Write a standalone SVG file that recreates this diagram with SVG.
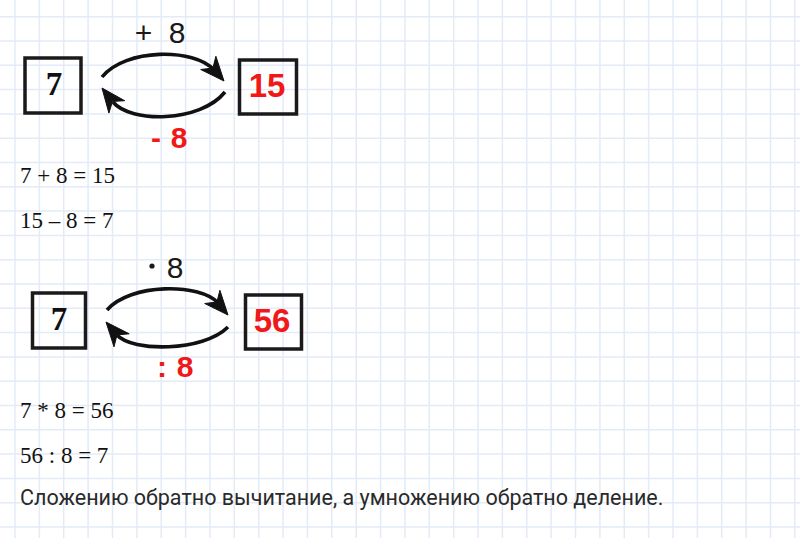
<svg xmlns="http://www.w3.org/2000/svg" width="800" height="538" viewBox="0 0 800 538">
<defs>
<style>
.grid{stroke:#e3ebf7;stroke-width:1.5;fill:none}
.box{fill:none;stroke:#1a1a1a;stroke-width:3.5}
.num{font-family:"Liberation Serif",serif;font-weight:bold;font-size:33px;fill:#111;text-anchor:middle}
.res{font-family:"Liberation Sans",Arial,sans-serif;font-weight:bold;font-size:33px;fill:#f01818;text-anchor:middle}
.op{font-family:"Liberation Sans",Arial,sans-serif;font-size:30px;fill:#1a1a1a;text-anchor:middle}
.inv{font-family:"Liberation Sans",Arial,sans-serif;font-weight:bold;font-size:30px;fill:#f01818;text-anchor:middle}
.arc{fill:none;stroke:#111;stroke-width:3.6}
.head{fill:#111;stroke:#111;stroke-width:1;stroke-linejoin:round}
.math{font-family:"Liberation Serif",serif;font-size:23px;fill:#111}
.note{font-family:Roboto,"Noto Sans",sans-serif;font-size:21.5px;fill:#2a2a2a}
</style>
</defs>
<rect width="800" height="538" fill="#ffffff"/>
<path class="grid" d="M15,0V538M39.4,0V538M63.7,0V538M88.1,0V538M112.5,0V538M136.9,0V538M161.2,0V538M185.6,0V538M210,0V538M234.3,0V538M258.7,0V538M283.1,0V538M307.4,0V538M331.8,0V538M356.2,0V538M380.6,0V538M404.9,0V538M429.3,0V538M453.7,0V538M478,0V538M502.4,0V538M526.8,0V538M551.1,0V538M575.5,0V538M599.9,0V538M624.3,0V538M648.6,0V538M673,0V538M697.4,0V538M721.7,0V538M746.1,0V538M770.5,0V538M794.8,0V538
M0,16.7H800M0,41H800M0,65.3H800M0,89.6H800M0,113.9H800M0,138.2H800M0,162.5H800M0,186.8H800M0,211.1H800M0,235.4H800M0,259.7H800M0,284H800M0,308.3H800M0,332.6H800M0,356.9H800M0,381.2H800M0,405.5H800M0,429.8H800M0,454.1H800M0,478.4H800M0,502.7H800M0,527H800"/>

<g id="node-7a">
<rect class="box" x="25" y="58" width="56" height="55"/>
<text class="num" x="54" y="95">7</text>
</g>
<g id="node-15">
<rect class="box" x="239.5" y="60" width="57" height="54"/>
<text class="res" x="267" y="97">15</text>
</g>
<g id="node-7b">
<rect class="box" x="32.5" y="293" width="53" height="55"/>
<text class="num" x="59" y="330">7</text>
</g>
<g id="node-56">
<rect class="box" x="245.5" y="295" width="56" height="54"/>
<text class="res" x="272" y="332">56</text>
</g>

<g id="connectors">
<path class="arc" d="M102,77 C125,48 195,48 214,70"/>
<polygon class="head" points="224,81 200.7,69.5 212.9,68.1 215.9,56.3"/>
<path class="arc" d="M225,92 C200,123 130,123 113,102"/>
<polygon class="head" points="102,88 124.7,100.7 112.5,101.4 108.9,113.1"/>
<path class="arc" d="M107,310 C130,283 200,283 218,303"/>
<polygon class="head" points="228,315 204.7,303.5 216.9,302.1 219.9,290.3"/>
<path class="arc" d="M228,327 C203,352 132,352 117,335"/>
<polygon class="head" points="106,322 129.2,333.8 117,334.9 114,346.8"/>
</g>

<g id="labels">
<text class="op" x="143.5" y="43" font-size="34">+</text>
<text class="op" x="177" y="43">8</text>
<text class="inv" x="156" y="148">-</text>
<text class="inv" x="179" y="148">8</text>
<circle cx="152" cy="266" r="2.6" fill="#1a1a1a"/>
<text class="op" x="175" y="278">8</text>
<text class="inv" x="162" y="377">:</text>
<text class="inv" x="185" y="377">8</text>
</g>

<g id="text">
<text class="math" x="20" y="183">7 + 8 = 15</text>
<text class="math" x="20" y="228">15 – 8 = 7</text>
<text class="math" x="20" y="418">7 * 8 = 56</text>
<text class="math" x="20" y="463">56 : 8 = 7</text>
<text class="note" x="20" y="505">Сложению обратно вычитание, а умножению обратно деление.</text>
</g>
</svg>
